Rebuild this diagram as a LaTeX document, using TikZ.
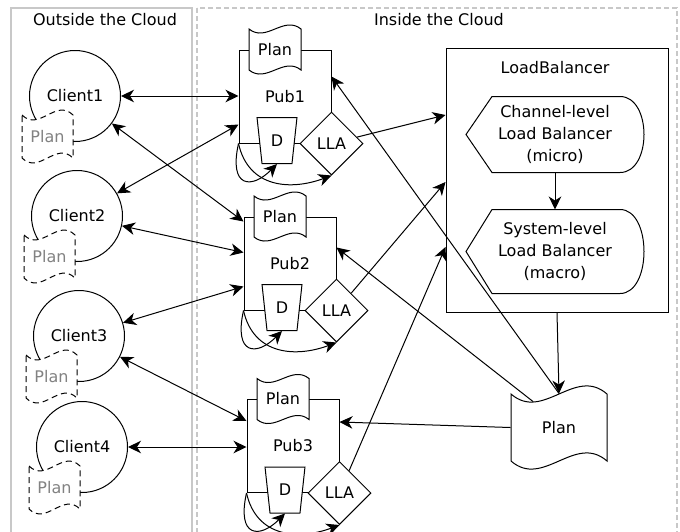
\documentclass[tikz,border=0pt]{standalone}
\usepackage{fontspec}
\setmainfont{DejaVu Sans}
\usetikzlibrary{shapes.geometric,arrows.meta,calc}
\definecolor{boxgray}{RGB}{200,200,200}
\definecolor{plangray}{RGB}{130,130,130}
% wavy document (tape) outline: #1 options, #2 centre, #3 half width, #4 half side height, #5 wave control offset
\newcommand{\wavydoc}[5]{%
  \path[#1] ($(#2)+(-#3,-#4)$)
    .. controls ($(#2)+(-#3/3,-#4+#5)$) and ($(#2)+(#3/3,-#4-#5)$) .. ($(#2)+(#3,-#4)$)
    -- ($(#2)+(#3,#4)$)
    .. controls ($(#2)+(#3/3,#4-#5)$) and ($(#2)+(-#3/3,#4+#5)$) .. ($(#2)+(-#3,#4)$)
    -- cycle;}
\begin{document}
\begin{tikzpicture}[x=1pt,y=-1pt,
  font=\fontsize{16}{22}\selectfont, line width=1pt,
  tip/.tip={Stealth[length=13pt,width=12.5pt,inset=4pt]},
  arr/.style={-tip},
  biarr/.style={tip-tip},
  outbox/.style={draw=boxgray, line width=2.5pt},
  inbox/.style={draw=boxgray, line width=2.5pt, dash pattern=on 5pt off 3pt},
  client/.style={circle, draw, minimum size=91pt, inner sep=0pt},
  cplanline/.style={draw, dash pattern=on 6pt off 4pt, fill=white},
  planline/.style={draw, fill=white},
  cplan/.style={text=plangray, minimum width=51pt, minimum height=43pt, inner sep=0pt},
  pub/.style={rectangle, draw, minimum width=92pt, minimum height=93pt, inner sep=0pt},
  pplan/.style={minimum width=52pt, minimum height=41pt, inner sep=0pt},
  dbox/.style={trapezium, draw, fill=white, trapezium angle=80, shape border rotate=180, trapezium stretches=true, minimum width=40pt, minimum height=46pt, inner sep=0pt},
  lla/.style={diamond, draw, fill=white, minimum width=63pt, minimum height=63pt, inner sep=0pt},
  lbbox/.style={draw, minimum width=222pt, minimum height=264pt, inner sep=0pt},
  disp/.style={align=center, minimum width=177pt, inner sep=0pt},
  bigplan/.style={minimum width=96pt, minimum height=67pt, inner sep=0pt}
]
\clip (0,0) rectangle (680,531);
\fill[white] (0,0) rectangle (680,531);

% cloud areas
\draw[outbox] (11,8) rectangle (192,560);
\draw[inbox] (197,8) rectangle (677,560);
\node (tout) at (105,20) {Outside the Cloud};
\node (tin) at (439,20) {Inside the Cloud};

% clients
\foreach \i/\x/\y in {1/75/96, 2/77/216, 3/79/336, 4/82/447} {
  \node[client] (c\i) at (\x,\y) {Client\i};
  \coordinate (cpc\i) at ($(c\i)+(-27.5,40.5)$);
  \wavydoc{cplanline}{cpc\i}{25.5}{21.5}{17}
  \node[cplan] (cp\i) at (cpc\i) {Plan};
}

% publishers
\foreach \i/\x/\y in {1/285/96.5, 2/290/263.5, 3/293/446} {
  \node[pub] (p\i) at (\x,\y) {Pub\i};
  \coordinate (ppc\i) at ($(p\i.north)+(-10,0)$);
  \wavydoc{planline}{ppc\i}{26}{20.5}{14}
  \node[pplan] (plan\i) at (ppc\i) {Plan};
  \node[dbox] (d\i) at ($(p\i.south)+(-8,-3)$) {D};
  \node[lla] (lla\i) at (p\i.south east) {LLA};
  \draw[arr] (p\i.south west) .. controls +(-10,45) and +(-25,25) .. (d\i.south);
  \draw[arr] (p\i.south west) .. controls +(10,45) and +(-40,15) .. (lla\i.south);
}

% load balancer
\node[lbbox] (lb) at (557,180) {};
\node (lbt) at (555,68) {LoadBalancer};
\node[disp, minimum height=75pt] (ch) at (555,134.5) {Channel-level\\Load Balancer\\(micro)};
\draw (ch.west) -- ([xshift=26pt]ch.north west) -- ([xshift=-24pt]ch.north east)
  .. controls ([xshift=8pt]ch.north east) and ([xshift=8pt]ch.south east) .. ([xshift=-24pt]ch.south east)
  -- ([xshift=26pt]ch.south west) -- cycle;
\node[disp, minimum height=83pt] (sys) at (555,251.5) {System-level\\Load Balancer\\(macro)};
\draw (sys.west) -- ([xshift=26pt]sys.north west) -- ([xshift=-24pt]sys.north east)
  .. controls ([xshift=8pt]sys.north east) and ([xshift=8pt]sys.south east) .. ([xshift=-24pt]sys.south east)
  -- ([xshift=26pt]sys.south west) -- cycle;
\draw[arr] (ch) -- (sys);

% global plan
\coordinate (gpc) at (559,427.5);
\wavydoc{planline}{gpc}{48}{33.5}{28}
\node[bigplan] (plan) at (gpc) {Plan};
\draw[arr] (lb.south) -- (plan.north);

% client <-> publisher
\draw[biarr] (c1.east) -- (c1.east -| p1.west);
\draw[biarr] (c2) -- ($(p1.west)+(0,28)$);
\draw[biarr] (c1) -- ($(p2.north west)+(0,5)$);
\draw[biarr] (c2) -- ($(p2.west)+(0,-11)$);
\draw[biarr] (c3) -- ($(p2.west)+(0,23)$);
\draw[biarr] (c3) -- ($(p3.west)+(0,-25)$);
\draw[biarr] (c4.east) -- (c4.east -| p3.west);

% LLA -> load balancer
\draw[arr] (lla1) -- ($(lb.west)+(0,-65)$);
\draw[arr] (lla2) -- ($(lb.west)+(0,2)$);
\draw[arr] (lla3) -- ($(lb.west)+(0,67)$);

% plan -> publishers
\draw[arr] (plan.north) -- ($(p1.east)+(0,-20)$);
\draw[arr] ($(plan.north)+(-26,8)$) -- ($(p2.east)+(0,-16)$);
\draw[arr] (plan.west) -- ($(p3.east)+(0,-24)$);
\end{tikzpicture}
\end{document}
